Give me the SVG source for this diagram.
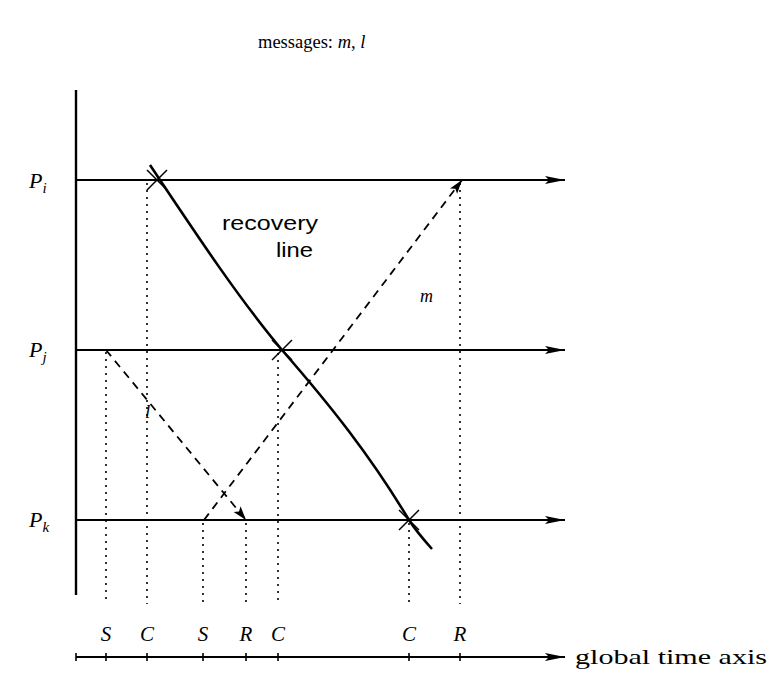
<svg xmlns="http://www.w3.org/2000/svg" width="780" height="675" viewBox="0 0 780 675">
<defs>
<marker id="ah" viewBox="0 0 20 10" refX="20" refY="5" markerWidth="20" markerHeight="10" markerUnits="userSpaceOnUse" orient="auto">
<path d="M0,1 L20,5 L0,9 L4,5 Z" fill="#000"/>
</marker>
<marker id="ahs" viewBox="0 0 14 10" refX="14" refY="5" markerWidth="14" markerHeight="10" markerUnits="userSpaceOnUse" orient="auto">
<path d="M0,0.5 L14,5 L0,9.5 L3,5 Z" fill="#000"/>
</marker>
<style>
.serif{font-family:"Liberation Serif","DejaVu Serif",serif;fill:#000}
.it{font-style:italic}
.sans{font-family:"Liberation Sans","DejaVu Sans",sans-serif;fill:#000}
.proc{stroke:#000;stroke-width:1.8;fill:none}
.dot{stroke:#000;stroke-width:1.6;stroke-dasharray:2 5;fill:none}
.dash{stroke:#000;stroke-width:1.8;stroke-dasharray:8 6;fill:none}
.cross{stroke:#000;stroke-width:1.5;fill:none}
</style>
</defs>
<rect width="780" height="675" fill="#fff"/>
<text class="serif" x="258" y="48" font-size="18.5">messages: <tspan class="it">m</tspan>, <tspan class="it">l</tspan></text>

<g id="axis">
<line x1="76" y1="90" x2="76" y2="595" stroke="#000" stroke-width="2.4"/>
</g>

<g id="Pi">
<line class="proc" x1="76" y1="180" x2="565" y2="180" marker-end="url(#ah)"/>
<text class="serif it" x="29" y="188" font-size="22">P<tspan font-size="15" dy="5">i</tspan></text>
</g>
<g id="Pj">
<line class="proc" x1="76" y1="350" x2="565" y2="350" marker-end="url(#ah)"/>
<text class="serif it" x="29" y="357" font-size="22">P<tspan font-size="15" dy="5">j</tspan></text>
</g>
<g id="Pk">
<line class="proc" x1="76" y1="520" x2="565" y2="520" marker-end="url(#ah)"/>
<text class="serif it" x="29" y="527" font-size="22">P<tspan font-size="15" dy="5">k</tspan></text>
</g>

<g id="checkpoints">
<path class="cross" d="M147,170 L167,190 M147,190 L167,170"/>
<path class="cross" d="M272,340 L292,360 M272,360 L292,340"/>
<path class="cross" d="M399,510 L419,530 M399,530 L419,510"/>
</g>

<g id="recovery-line">
<path d="M150,165 C200,240 240,300 282,350 C330,405 370,455 409,520 C416,531 424,540 432,549" stroke="#000" stroke-width="2.6" fill="none"/>
<text class="sans" x="222" y="230" font-size="21" textLength="96" lengthAdjust="spacingAndGlyphs">recovery</text>
<text class="sans" x="276" y="257" font-size="21" textLength="37" lengthAdjust="spacingAndGlyphs">line</text>
</g>

<g id="connectors">
<line class="dot" x1="106" y1="352" x2="106" y2="604"/>
<line class="dot" x1="147" y1="183" x2="147" y2="604"/>
<line class="dot" x1="203" y1="523" x2="203" y2="604"/>
<line class="dot" x1="246" y1="523" x2="246" y2="604"/>
<line class="dot" x1="278" y1="353" x2="278" y2="604"/>
<line class="dot" x1="409" y1="523" x2="409" y2="604"/>
<line class="dot" x1="460" y1="183" x2="460" y2="604"/>
<line class="dash" x1="106" y1="350" x2="246" y2="520" marker-end="url(#ahs)"/>
<line class="dash" x1="204" y1="520" x2="462" y2="180" marker-end="url(#ahs)"/>
</g>

<text class="serif it" x="145" y="418" font-size="19">l</text>
<text class="serif it" x="420" y="302" font-size="18">m</text>

<g id="event-labels" class="serif it" font-size="21" text-anchor="middle">
<text x="106" y="641">S</text>
<text x="147" y="641">C</text>
<text x="203" y="641">S</text>
<text x="246" y="641">R</text>
<text x="278" y="641">C</text>
<text x="409" y="641">C</text>
<text x="460" y="641">R</text>
</g>

<g id="time-axis">
<line class="proc" x1="76" y1="657" x2="565" y2="657" marker-end="url(#ah)"/>
<path d="M76,653 V661 M106,653 V661 M147,653 V661 M203,653 V661 M246,653 V661 M278,653 V661 M409,653 V661 M460,653 V661" stroke="#000" stroke-width="1.6"/>
<text class="serif" x="575" y="664" font-size="22" textLength="192" lengthAdjust="spacingAndGlyphs">global time axis</text>
</g>
</svg>
